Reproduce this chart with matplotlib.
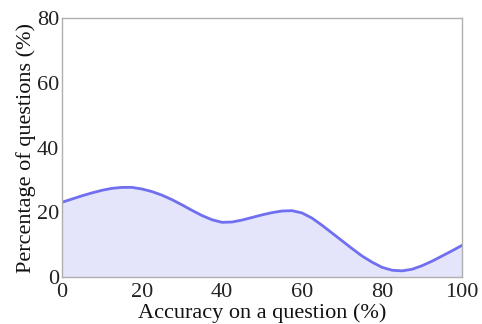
import numpy as np
import matplotlib
matplotlib.use("Agg")
import matplotlib.pyplot as plt

plt.rcParams['font.family'] = ['Liberation Serif', 'DejaVu Serif']

# values
accuracy = [0, 2.5, 5, 7.5, 10, 12.5, 15, 17.5, 20, 22.5, 25, 27.5, 30, 32.5, 35, 37.5,
            40, 42.5, 45, 47.5, 50, 52.5, 55, 57.5, 60, 62.5, 65, 67.5, 70, 72.5, 75,
            77.5, 80, 82.5, 85, 87.5, 90, 92.5, 95, 97.5, 100]
pct_questions = [23.1, 24.1, 25.1, 26.0, 26.8, 27.4, 27.7, 27.7, 27.2, 26.4, 25.3, 23.9,
                 22.3, 20.6, 19.0, 17.7, 16.9, 17.0, 17.6, 18.4, 19.2, 19.9, 20.4, 20.5,
                 19.8, 18.2, 16.0, 13.6, 11.2, 8.8, 6.5, 4.6, 3.0, 2.1, 1.9, 2.4, 3.5,
                 4.9, 6.5, 8.1, 9.8]
x_ticks = [0, 20, 40, 60, 80, 100]
y_ticks = [0, 20, 40, 60, 80]

fig = plt.figure(figsize=(4.82, 3.24), dpi=100)
ax = fig.add_axes([0.1286, 0.145, 0.83, 0.799])

ax.fill_between(accuracy, pct_questions, 0, color='#e4e4fa', lw=0)
ax.plot(accuracy, pct_questions, color='#6f6ff0', lw=2)

ax.set_xlim(0, 100)
ax.set_ylim(0, 80)
ax.set_xticks(x_ticks)
ax.set_yticks(y_ticks)
ax.tick_params(length=0, labelsize=16, labelcolor='#222222')
ax.tick_params(axis='x', pad=4)
ax.tick_params(axis='y', pad=2)
for s in ax.spines.values():
    s.set_color('#b0b0b0')
    s.set_linewidth(1)

ax.set_xlabel("Accuracy on a question (%)", fontsize=16, labelpad=1, color='#111111')
ax.set_ylabel("Percentage of questions (%)", fontsize=16, labelpad=1, color='#111111')

fig.savefig("out.png", dpi=100)
